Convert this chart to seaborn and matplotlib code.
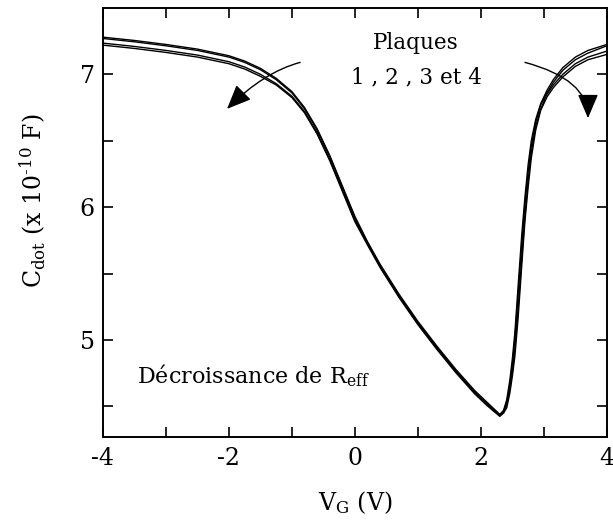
import seaborn as sns
import matplotlib.pyplot as plt
import pandas as pd

# gate voltage (V)
vg = [-4.0, -3.5, -3.0, -2.5, -2.0, -1.75, -1.5, -1.25, -1.0, -0.8, -0.6, -0.4, -0.2, 0.0,
      0.2, 0.4, 0.7, 1.0, 1.3, 1.6, 1.9, 2.1, 2.3, 2.36, 2.41, 2.46, 2.5, 2.54, 2.59, 2.65,
      2.7, 2.75, 2.8, 2.87, 2.95, 3.05, 3.15, 3.3, 3.5, 3.7, 4.0]

# C_dot (x 1e-10 F), plates 1..4
c1 = [7.28, 7.255, 7.225, 7.19, 7.14, 7.10, 7.045, 6.97, 6.87, 6.75, 6.59, 6.39, 6.16, 5.93,
      5.74, 5.57, 5.345, 5.14, 4.955, 4.78, 4.62, 4.53, 4.44, 4.47, 4.55, 4.70, 4.86, 5.06, 5.40, 5.80,
      6.08, 6.32, 6.50, 6.66, 6.78, 6.88, 6.96, 7.05, 7.13, 7.18, 7.225]
c2 = [7.27, 7.245, 7.215, 7.18, 7.13, 7.09, 7.035, 6.96, 6.86, 6.74, 6.58, 6.38, 6.15, 5.92,
      5.73, 5.56, 5.335, 5.13, 4.945, 4.77, 4.61, 4.52, 4.435, 4.465, 4.53, 4.66, 4.82, 5.01, 5.33, 5.73,
      6.02, 6.27, 6.46, 6.64, 6.77, 6.86, 6.94, 7.03, 7.11, 7.16, 7.215]
c3 = [7.235, 7.21, 7.18, 7.145, 7.095, 7.055, 7.00, 6.93, 6.835, 6.72, 6.56, 6.36, 6.13, 5.90,
      5.725, 5.555, 5.33, 5.125, 4.94, 4.765, 4.605, 4.515, 4.43, 4.455, 4.51, 4.64, 4.76, 4.94, 5.23, 5.63,
      5.94, 6.20, 6.41, 6.61, 6.74, 6.85, 6.92, 7.00, 7.08, 7.13, 7.175]
c4 = [7.22, 7.195, 7.165, 7.13, 7.08, 7.04, 6.985, 6.92, 6.825, 6.71, 6.55, 6.35, 6.12, 5.89,
      5.715, 5.545, 5.32, 5.115, 4.93, 4.755, 4.595, 4.505, 4.425, 4.45, 4.49, 4.60, 4.73, 4.88, 5.16, 5.57,
      5.90, 6.15, 6.37, 6.58, 6.73, 6.83, 6.90, 6.98, 7.06, 7.11, 7.15]

df = pd.concat([
    pd.DataFrame({"vg": vg, "c": c, "plaque": str(i + 1)})
    for i, c in enumerate([c1, c2, c3, c4])
], ignore_index=True)

sns.set_style("ticks")
plt.rcParams["font.family"] = ["DejaVu Serif"]
plt.rcParams["mathtext.fontset"] = "dejavuserif"
plt.rcParams["axes.unicode_minus"] = False
for k in ["text.color", "axes.labelcolor", "xtick.color", "ytick.color", "axes.edgecolor"]:
    plt.rcParams[k] = "black"

fig = plt.figure(figsize=(6.13, 5.29), dpi=100)
ax = fig.add_axes([0.168, 0.174, 0.822, 0.811])
sns.lineplot(data=df, x="vg", y="c", hue="plaque", estimator=None, sort=False,
             palette=["black"] * 4, linewidth=1.0, legend=False, ax=ax)

ax.set_xlim(-4, 4)
ax.set_ylim(4.27, 7.5)
ax.set_xticks([-4, -2, 0, 2, 4])
ax.set_xticks([-3, -1, 1, 3], minor=True)
ax.set_yticks([5, 6, 7])
ax.set_yticks([4.5, 5.5, 6.5], minor=True)
ax.tick_params(which="both", direction="in", length=7, width=1.2,
               top=True, right=True, labelsize=17)
ax.tick_params(axis="x", pad=7)
ax.tick_params(axis="y", pad=6)
for s in ax.spines.values():
    s.set_linewidth(1.4)

ax.set_xlabel(r"V$_{\rm G}$ (V)", fontsize=17)
ax.set_ylabel("C$_{\\rm dot}$ (x 10$^{\\rm \u201010}$ F)", fontsize=17)
ax.xaxis.set_label_coords(0.5, -0.122)
ax.yaxis.set_label_coords(-0.109, 0.55)

ax.text(0.97, 7.236, "Plaques", fontsize=15.5, ha="center", va="center")
ax.text(0.97, 6.98, "1 , 2 , 3 et 4", fontsize=15.5, ha="center", va="center")
ax.text(-3.46, 4.676, r"Décroissance de R$_{\rm eff}$", fontsize=16, ha="left", va="baseline")

arrow = dict(arrowstyle="-|>,head_length=0.75,head_width=0.32", mutation_scale=20,
             color="black", lw=1.0, shrinkA=0, shrinkB=0)
ax.annotate("", xy=(-2.03, 6.74), xytext=(-0.87, 7.09),
            arrowprops=dict(connectionstyle="angle3,angleA=15,angleB=45", **arrow))
ax.annotate("", xy=(3.70, 6.67), xytext=(2.70, 7.09),
            arrowprops=dict(connectionstyle="angle3,angleA=-15,angleB=90", **arrow))

fig.savefig("out.png", dpi=100)
